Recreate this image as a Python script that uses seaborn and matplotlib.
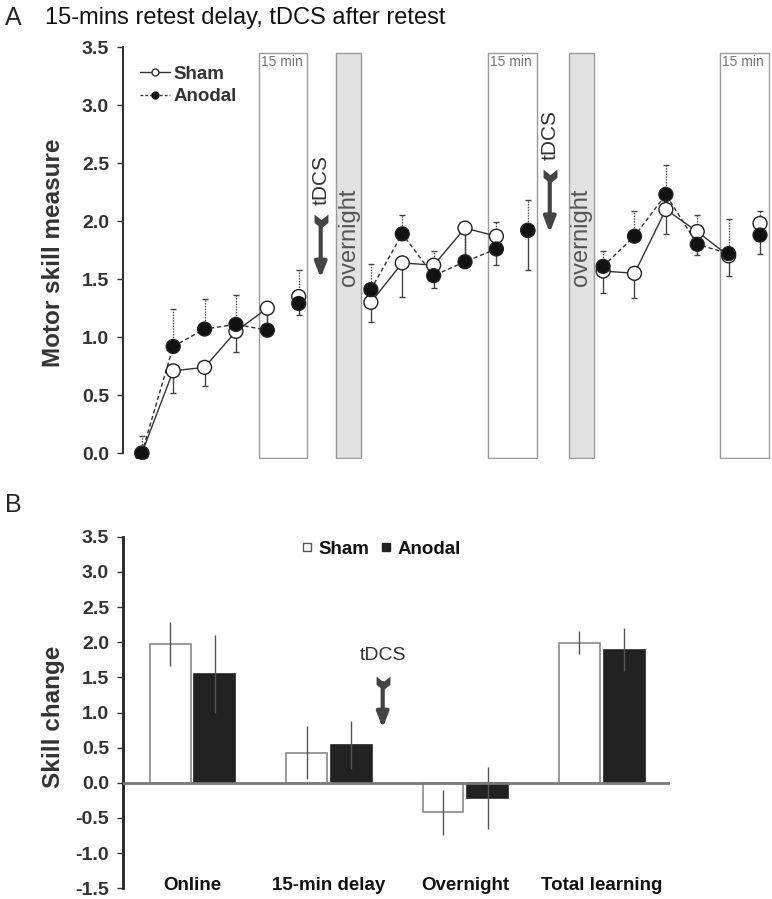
import numpy as np
import pandas as pd
import seaborn as sns
import matplotlib.pyplot as plt
from matplotlib.lines import Line2D
from matplotlib.patches import Rectangle

sns.set_style("white")
plt.rcParams['font.family'] = ['Liberation Sans', 'DejaVu Sans']

# ---- panel A data: 3 days x (5 trials + retest) ----
groups = ["Sham", "Anodal"]
sham = [0.00, 0.71, 0.74, 1.05, 1.25, 1.35,
        1.30, 1.64, 1.62, 1.94, 1.87, 1.92,
        1.57, 1.55, 2.10, 1.91, 1.70, 1.98]
anodal = [0.00, 0.92, 1.07, 1.11, 1.06, 1.29,
          1.41, 1.89, 1.53, 1.65, 1.76, 1.92,
          1.61, 1.87, 2.23, 1.80, 1.72, 1.88]
# sham error drawn downward, anodal error drawn upward
sham_sem = [0.05, 0.19, 0.16, 0.18, 0.20, 0.16,
            0.17, 0.29, 0.20, 0.29, 0.25, 0.34,
            0.19, 0.21, 0.21, 0.20, 0.17, 0.26]
anodal_sem = [0.15, 0.32, 0.26, 0.25, 0.15, 0.29,
              0.22, 0.16, 0.21, 0.25, 0.23, 0.26,
              0.13, 0.22, 0.25, 0.25, 0.30, 0.21]

# ---- panel B data ----
categories = ["Online", "15-min delay", "Overnight", "Total learning"]
sham_change = [1.97, 0.43, -0.42, 1.99]
sham_change_err = [0.31, 0.375, 0.32, 0.165]
anodal_change = [1.545, 0.535, -0.21, 1.895]
anodal_change_err = [0.555, 0.345, 0.44, 0.30]

# layout of the session blocks on the x axis
day_start = [0, 7.3, 14.7]
n_per_day = 6

xpos = [day_start[i // n_per_day] + i % n_per_day for i in range(len(sham))]
day_id = [i // n_per_day for i in range(len(sham))]
trial = [i % n_per_day for i in range(len(sham))]

df = pd.DataFrame({
    "x": xpos * 2,
    "score": sham + anodal,
    "group": ["Sham"] * len(sham) + ["Anodal"] * len(anodal),
    "day": day_id * 2,
    "trial": trial * 2,
})
df["seg"] = df["group"] + df["day"].astype(str)

fig = plt.figure(figsize=(7.72, 8.99), dpi=100)
axA = fig.add_axes([0.1593, 0.4894, 0.8394, 0.4583])
axB = fig.add_axes([0.1593, 0.0119, 0.7085, 0.3911])

dark = "#333333"
# ------------------- panel A -------------------
for d in day_start:
    # 15 min retest box
    axA.add_patch(Rectangle((d + 3.73, -0.04), 1.55, 3.49, facecolor="white",
                            edgecolor="#9a9a9a", lw=1, zorder=0))
    axA.text(d + 3.8, 3.37, "15 min", fontsize=10, color="#777777", va="center")
for d in day_start[1:]:
    axA.add_patch(Rectangle((d - 1.1, -0.04), 0.8, 3.49, facecolor="#e2e2e2",
                            edgecolor="#9a9a9a", lw=1, zorder=0))
    axA.text(d - 0.7, 1.86, "overnight", rotation=90, fontsize=17,
             color="#555555", ha="center", va="center")

tail = [(-1, 1), (0, 0.2), (1, 1), (1, -0.2), (0, -1), (-1, -0.2), (-1, 1)]
for d, top in zip(day_start[:2], [2.03, 2.42]):
    xa = d + 5.7
    axA.annotate("", xy=(xa, top - 0.52), xytext=(xa, top - 0.04),
                 arrowprops=dict(arrowstyle="-|>,head_length=0.9,head_width=0.35",
                                 lw=3, color="#444444", shrinkA=0, shrinkB=0))
    axA.plot([xa], [top - 0.03], marker=tail, ms=10, color="#444444", mew=0)
    axA.text(xa, top + 0.32, "tDCS", rotation=90, fontsize=15, color=dark,
             ha="center", va="center")

line_df = df[df["trial"] < 5]
sns.lineplot(data=line_df, x="x", y="score", hue="group", style="group",
             units="seg", estimator=None, palette={"Sham": dark, "Anodal": dark},
             dashes={"Sham": "", "Anodal": (3, 2)}, lw=1, legend=False,
             sort=False, ax=axA, zorder=3)

zeros = np.zeros(len(sham))
e1 = axA.errorbar(xpos, sham, yerr=[sham_sem, zeros], fmt="none",
                  ecolor="#444444", elinewidth=1, capsize=2, capthick=1, zorder=2)
e2 = axA.errorbar(xpos, anodal, yerr=[zeros, anodal_sem], fmt="none",
                  ecolor="#444444", elinewidth=1, capsize=2, capthick=1, zorder=2)
e2[2][0].set_linestyle((0, (1, 1)))

sns.scatterplot(data=df, x="x", y="score", hue="group",
                palette={"Sham": "white", "Anodal": "#111111"}, s=100,
                edgecolor="#222222", linewidth=1, legend=False, ax=axA, zorder=4)

axA.set_xlim(-0.6, 20.05)
axA.set_ylim(-0.05, 3.5)
axA.set_yticks(np.arange(0, 3.51, 0.5))
axA.set_yticklabels([f"{v:.1f}" for v in np.arange(0, 3.51, 0.5)])
axA.set_xticks([])
axA.set_xlabel("")
axA.set_ylabel("Motor skill measure", fontsize=17.5, fontweight="bold", color=dark)
axA.yaxis.set_label_coords(-0.09, 0.5)
for s in ["top", "right", "bottom"]:
    axA.spines[s].set_visible(False)
axA.spines["left"].set_bounds(0, 3.5)
axA.spines["left"].set_color(dark)
axA.spines["left"].set_linewidth(1.5)
axA.tick_params(axis="y", direction="out", length=4, width=1, color=dark,
                labelsize=14, labelcolor=dark, pad=6, left=True)
for t in axA.get_yticklabels():
    t.set_fontweight("bold")

hA = [Line2D([0], [0], color=dark, lw=1, marker="o", mfc="white", mec=dark, ms=5),
      Line2D([0], [0], color=dark, lw=1, ls=(0, (2, 1.5)), marker="o", mfc="#111111",
             mec="#111111", ms=5)]
legA = axA.legend(hA, groups, loc="upper left", bbox_to_anchor=(0.026, 0.955),
                  frameon=False, handlelength=1.6, handletextpad=0.2,
                  labelspacing=0.3, borderpad=0, borderaxespad=0,
                  prop={"size": 13.5, "weight": "bold"})
for t in legA.get_texts():
    t.set_color(dark)

# ------------------- panel B -------------------
dfB = pd.DataFrame({
    "phase": categories * 2,
    "change": sham_change + anodal_change,
    "group": ["Sham"] * 4 + ["Anodal"] * 4,
})
sns.barplot(data=dfB, x="phase", y="change", hue="group", hue_order=groups,
            palette={"Sham": "white", "Anodal": "#222222"}, width=0.656, gap=0.085,
            errorbar=None, legend=False, ax=axB, zorder=2)
for cont, g in zip(axB.containers, groups):
    errs = sham_change_err if g == "Sham" else anodal_change_err
    for bar, e in zip(cont, errs):
        if g == "Sham":
            bar.set_edgecolor("#8a8a8a")
        else:
            bar.set_edgecolor("#222222")
        bar.set_linewidth(1.2)
        xc = bar.get_x() + bar.get_width() / 2
        y0, h = bar.get_y(), bar.get_height()
        yv = min(y0, y0 + h) if min(y0, y0 + h) < 0 else max(y0, y0 + h)
        axB.errorbar([xc], [yv], yerr=[e], fmt="none", ecolor="#555555",
                     elinewidth=1, capsize=0, zorder=3)

axB.axhline(0, color="#7a7a7a", lw=2, zorder=4)

xb = 1.394
axB.annotate("", xy=(xb, 0.78), xytext=(xb, 1.42),
             arrowprops=dict(arrowstyle="-|>,head_length=0.9,head_width=0.35",
                             lw=3, color="#444444", shrinkA=0, shrinkB=0))
axB.plot([xb], [1.42], marker=tail, ms=10, color="#444444", mew=0)
axB.text(xb, 1.815, "tDCS", fontsize=14, color=dark, ha="center", va="center")

axB.set_xlim(-0.51, 3.5)
axB.set_ylim(-1.5, 3.5)
yt = np.arange(-1.5, 3.51, 0.5)
axB.set_yticks(yt)
axB.set_yticklabels([f"{v:.1f}" for v in yt])
axB.set_xlabel("")
axB.set_ylabel("Skill change", fontsize=17.5, fontweight="bold", color=dark)
axB.yaxis.set_label_coords(-0.106, 0.487)
for s in ["top", "right", "bottom"]:
    axB.spines[s].set_visible(False)
axB.spines["left"].set_color("#222222")
axB.spines["left"].set_linewidth(2)
axB.tick_params(axis="y", direction="out", length=4, width=1, color=dark,
                labelsize=14, labelcolor=dark, pad=6, left=True)
axB.tick_params(axis="x", length=0, labelsize=13.5, pad=-8, labelcolor="#111111")
for t in axB.get_yticklabels() + axB.get_xticklabels():
    t.set_fontweight("bold")

hB = [Line2D([0], [0], ls="none", marker="s", mfc="white", mec="#555555", ms=5.5),
      Line2D([0], [0], ls="none", marker="s", mfc="#222222", mec="#222222", ms=5.5)]
legB = axB.legend(hB, groups, loc="center", bbox_to_anchor=(0.472, 0.965), ncol=2,
                  frameon=False, handlelength=0.6, handletextpad=0.3,
                  columnspacing=0.6, borderpad=0, prop={"size": 13.5, "weight": "bold"})
for t in legB.get_texts():
    t.set_color("#111111")

fig.text(0.006, 0.98, "A", fontsize=18, va="center")
fig.text(45 / 772, 0.98, "15-mins retest delay, tDCS after retest", fontsize=17,
         va="center", color="#111111")
fig.text(0.006, 0.4383, "B", fontsize=18, va="center")

fig.savefig("out.png", dpi=100)
